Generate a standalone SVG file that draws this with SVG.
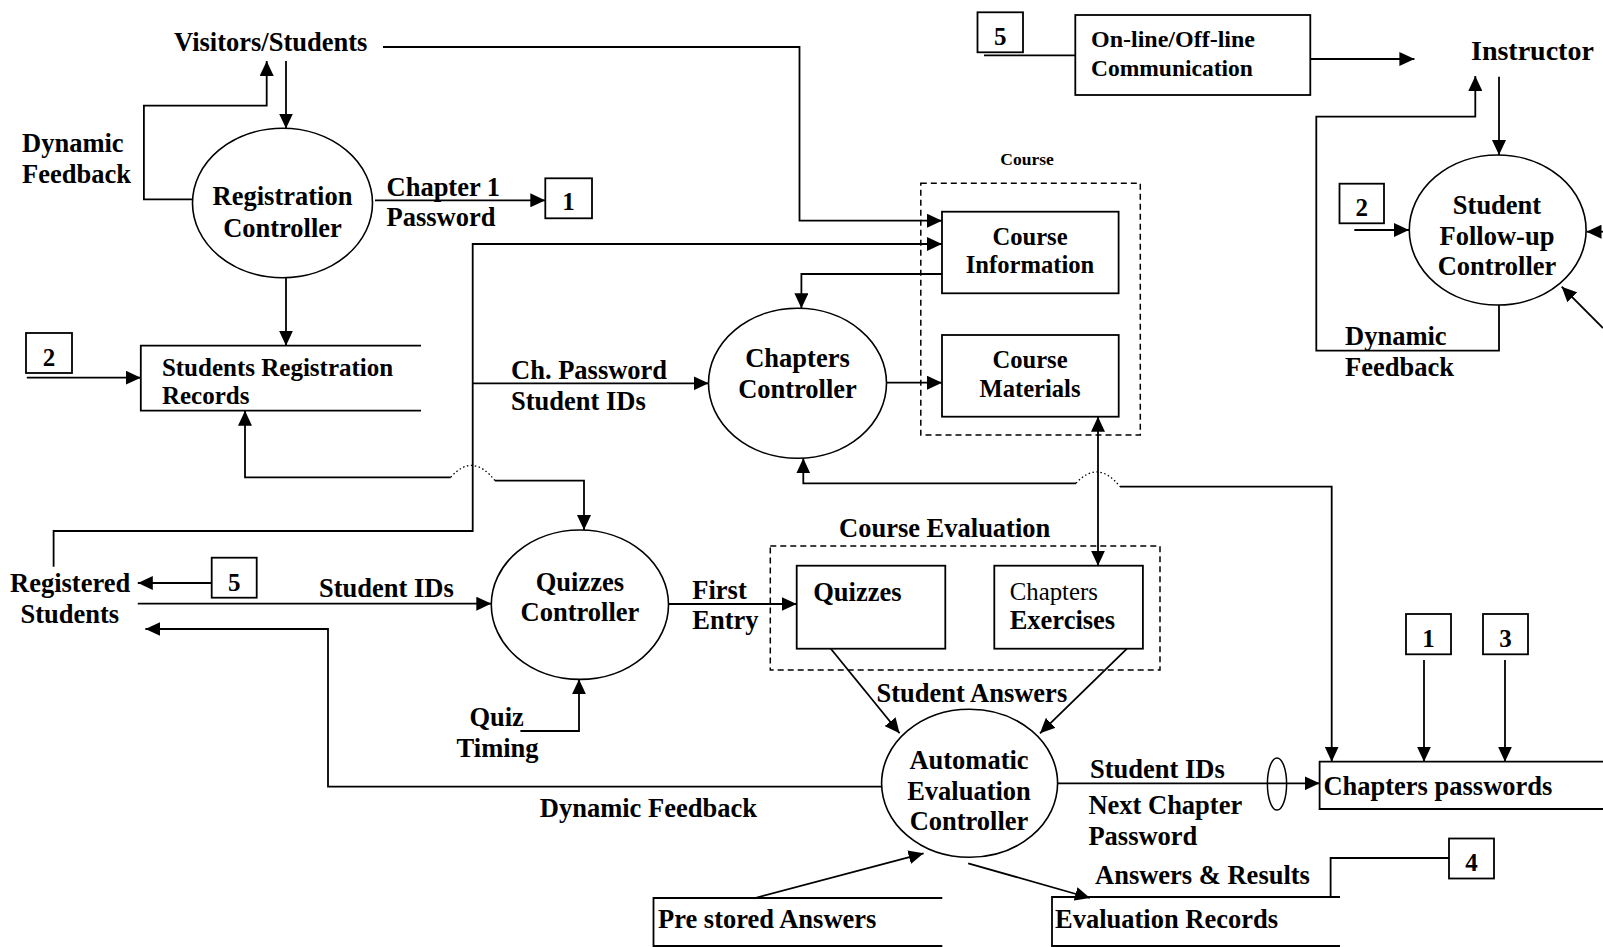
<svg xmlns="http://www.w3.org/2000/svg" width="1603" height="947" viewBox="0 0 1603 947">
  <defs>
    <marker id="ah" markerWidth="15" markerHeight="14" refX="15" refY="7" orient="auto-start-reverse" markerUnits="userSpaceOnUse">
      <path d="M0,0 L15,7 L0,14 z" fill="#000"/>
    </marker>
    <style>
      text { font-family: "Liberation Serif", "Times New Roman", serif; font-weight: bold; font-size: 26.5px; fill: #000; }
      .mid { text-anchor: middle; }
      .sm { font-size: 25px; }
      .xs { font-size: 17.5px; }
      .reg { font-weight: normal; font-size: 24.8px; }
      .num { font-size: 25px; text-anchor: middle; }
      .proc { fill: #fff; stroke: #000; stroke-width: 1.6; }
      .box { fill: #fff; stroke: #000; stroke-width: 1.8; }
      .store { fill: none; stroke: #000; stroke-width: 1.8; }
      .grp { fill: none; stroke: #000; stroke-width: 1.5; stroke-dasharray: 6 4; }
      .flow { fill: none; stroke: #000; stroke-width: 1.8; }
      .arr { marker-end: url(#ah); }
      .hop { fill: none; stroke: #000; stroke-width: 1.3; stroke-dasharray: 1.5 2.5; }
    </style>
  </defs>
  <rect width="1603" height="947" fill="#fff"/>

  <!-- group outlines -->
  <g id="course-group">
    <rect class="grp" x="920.8" y="183.3" width="219.5" height="251.7"/>
    <text class="xs mid" x="1027" y="165">Course</text>
  </g>
  <g id="course-evaluation-group">
    <rect class="grp" x="770.3" y="546" width="389.7" height="124"/>
    <text x="839" y="537">Course Evaluation</text>
  </g>

  <!-- connectors -->
  <g id="connectors">
    <path class="flow arr" d="M383,47 H799.5 V220.7 H942"/>
    <path class="flow arr" d="M286,61 V128.5"/>
    <path class="flow arr" d="M192.5,199.3 H143.9 V105.7 H266.7 V61"/>
    <path class="flow arr" d="M375,200.3 H545.3"/>
    <path class="flow arr" d="M286,277.7 V345.7"/>
    <path class="flow arr" d="M26.8,377.7 H140.8"/>
    <path class="flow arr" d="M450.7,477.3 H245 V410.7"/>
    <path class="hop" d="M450.7,477.3 Q472.7,452 495,480.7"/>
    <path class="flow arr" d="M495,480.7 H584 V530"/>
    <path class="flow arr" d="M53.6,566.7 V531 H472.7 V244 H942"/>
    <path class="flow arr" d="M472.7,383.3 H708.6"/>
    <path class="flow arr" d="M942,274 H801.4 V308.3"/>
    <path class="flow arr" d="M886.3,382.7 H942"/>
    <path class="flow" d="M1098,416.7 V565.7" marker-start="url(#ah)" marker-end="url(#ah)"/>
    <path class="flow arr" d="M1076,483.3 H803.3 V458.3"/>
    <path class="hop" d="M1076,483.3 Q1098,459 1120,486.7"/>
    <path class="flow arr" d="M1120,486.7 H1331.7 V761.7"/>
    <path class="flow" d="M984,55.3 H1075.3"/>
    <path class="flow arr" d="M1310.4,59 H1414.4"/>
    <path class="flow arr" d="M1499,76.7 V155"/>
    <path class="flow arr" d="M1499,305 V350.7 H1316.3 V116.7 H1475.3 V76"/>
    <path class="flow arr" d="M1354.3,230 H1409"/>
    <path class="flow arr" d="M1603,231.7 H1586.5"/>
    <path class="flow arr" d="M1603,328 L1561.7,286.7"/>
    <path class="flow arr" d="M211.7,583 H137.8"/>
    <path class="flow arr" d="M137.8,603.7 H491.3"/>
    <path class="flow arr" d="M883,786.7 H328 V629 H145.4"/>
    <path class="flow arr" d="M520.4,731 H579 V679.3"/>
    <path class="flow arr" d="M668.4,604 H796.7"/>
    <path class="flow arr" d="M830.8,648.7 L899.6,733.3"/>
    <path class="flow arr" d="M1127,648.7 L1040,733.3"/>
    <path class="flow arr" d="M1057.6,783.3 H1319.6"/>
    <ellipse cx="1277" cy="784" rx="9.6" ry="26" fill="none" stroke="#000" stroke-width="1.5"/>
    <path class="flow arr" d="M1424,660 V761.7"/>
    <path class="flow arr" d="M1505,660 V761.7"/>
    <path class="flow arr" d="M754,898.3 L923.6,853.3"/>
    <path class="flow arr" d="M968.2,863.3 L1090,898"/>
    <path class="flow" d="M1330.6,897 V858 H1449"/>
  </g>

  <!-- processes -->
  <g id="registration-controller">
    <ellipse class="proc" cx="282.5" cy="203" rx="90" ry="74.7"/>
    <text class="mid" x="282.5" y="205">Registration</text>
    <text class="mid" x="282.5" y="237">Controller</text>
  </g>
  <g id="chapters-controller">
    <ellipse class="proc" cx="797.5" cy="383.3" rx="89" ry="75"/>
    <text class="mid" x="797.5" y="366.7">Chapters</text>
    <text class="mid" x="797.5" y="397.7">Controller</text>
  </g>
  <g id="student-followup-controller">
    <ellipse class="proc" cx="1497.7" cy="230" rx="88.4" ry="75"/>
    <text class="mid" x="1497" y="213.5">Student</text>
    <text class="mid" x="1497" y="244.5">Follow-up</text>
    <text class="mid" x="1497" y="274.5">Controller</text>
  </g>
  <g id="quizzes-controller">
    <ellipse class="proc" cx="579.9" cy="604.7" rx="88.6" ry="74.7"/>
    <text class="mid" x="579.9" y="590.5">Quizzes</text>
    <text class="mid" x="579.9" y="620.5">Controller</text>
  </g>
  <g id="automatic-evaluation-controller">
    <ellipse class="proc" cx="969.6" cy="783.3" rx="88" ry="74"/>
    <text class="mid" x="969" y="769">Automatic</text>
    <text class="mid" x="969" y="800">Evaluation</text>
    <text class="mid" x="969" y="830">Controller</text>
  </g>

  <!-- data stores -->
  <g id="students-registration-records">
    <path class="store" d="M421,345.7 H140.8 V410.7 H421"/>
    <text class="sm" x="161.9" y="376">Students Registration</text>
    <text class="sm" x="161.9" y="404">Records</text>
  </g>
  <g id="chapters-passwords">
    <path class="store" d="M1603,761.7 H1319.6 V809 H1603"/>
    <text x="1323.4" y="794.5">Chapters passwords</text>
  </g>
  <g id="pre-stored-answers">
    <path class="store" d="M942.3,898 H653.5 V946 H942.3"/>
    <text x="658" y="928">Pre stored Answers</text>
  </g>
  <g id="evaluation-records">
    <path class="store" d="M1340,897 H1052 V946 H1340"/>
    <text x="1055" y="928">Evaluation Records</text>
  </g>

  <!-- entities and boxes -->
  <g id="course-information">
    <rect class="box" x="942" y="211.7" width="176.6" height="81.6"/>
    <text class="mid" x="1030" y="245" style="font-size:24.6px">Course</text>
    <text class="mid" x="1030" y="273.3" style="font-size:24.6px">Information</text>
  </g>
  <g id="course-materials">
    <rect class="box" x="942" y="335" width="176.7" height="81.7"/>
    <text class="mid" x="1030" y="367.7" style="font-size:24.6px">Course</text>
    <text class="mid" x="1030" y="396.7" style="font-size:24.6px">Materials</text>
  </g>
  <g id="quizzes">
    <rect class="box" x="796.7" y="565.7" width="148.6" height="83"/>
    <text x="813.2" y="601">Quizzes</text>
  </g>
  <g id="chapters-exercises">
    <rect class="box" x="994.3" y="565.7" width="148.6" height="83"/>
    <text class="reg" x="1009.7" y="599.5">Chapters</text>
    <text x="1009.7" y="629">Exercises</text>
  </g>
  <g id="communication">
    <rect class="box" x="1075.3" y="15" width="235" height="80"/>
    <text x="1091" y="47" style="font-size:24px">On-line/Off-line</text>
    <text x="1091" y="75.5" style="font-size:23.5px">Communication</text>
  </g>
  <g id="visitors-students">
    <text x="174" y="50.5">Visitors/Students</text>
  </g>
  <g id="instructor">
    <text x="1471" y="60" style="font-size:28px">Instructor</text>
  </g>
  <g id="registered-students">
    <text x="10" y="592">Registered</text>
    <text x="20.4" y="622.5">Students</text>
  </g>
  <g id="ref-1-top">
    <rect class="box" x="545.3" y="178.3" width="46.7" height="40"/>
    <text class="num" x="568.6" y="210">1</text>
  </g>
  <g id="ref-2-left">
    <rect class="box" x="26" y="333" width="46" height="40"/>
    <text class="num" x="49" y="366">2</text>
  </g>
  <g id="ref-5-top">
    <rect class="box" x="977.5" y="12.3" width="45.5" height="40"/>
    <text class="num" x="1000.2" y="45">5</text>
  </g>
  <g id="ref-2-right">
    <rect class="box" x="1339.5" y="183.7" width="44.5" height="39.6"/>
    <text class="num" x="1361.7" y="215.5">2</text>
  </g>
  <g id="ref-5-left">
    <rect class="box" x="211.7" y="557.7" width="45" height="40"/>
    <text class="num" x="234.2" y="590.5">5</text>
  </g>
  <g id="ref-1-bottom">
    <rect class="box" x="1406" y="614" width="45" height="40.3"/>
    <text class="num" x="1428.5" y="647">1</text>
  </g>
  <g id="ref-3">
    <rect class="box" x="1483" y="614" width="45" height="40.3"/>
    <text class="num" x="1505.5" y="647">3</text>
  </g>
  <g id="ref-4">
    <rect class="box" x="1449" y="838.5" width="45" height="40"/>
    <text class="num" x="1471.5" y="871">4</text>
  </g>

  <!-- flow labels -->
  <g id="labels">
    <text x="22" y="151.5">Dynamic</text>
    <text x="22" y="182.5">Feedback</text>
    <text x="386.5" y="195.5">Chapter 1</text>
    <text x="386.5" y="225.5">Password</text>
    <text x="511" y="378.5">Ch. Password</text>
    <text x="511" y="409.5">Student IDs</text>
    <text x="1345" y="345">Dynamic</text>
    <text x="1345" y="376">Feedback</text>
    <text x="319" y="597">Student IDs</text>
    <text x="692.3" y="598.5">First</text>
    <text x="692.3" y="628.5">Entry</text>
    <text x="469.4" y="725.5">Quiz</text>
    <text x="456.6" y="757">Timing</text>
    <text x="539.8" y="816.5">Dynamic Feedback</text>
    <text x="876.5" y="702">Student Answers</text>
    <text x="1090" y="778">Student IDs</text>
    <text x="1088.4" y="814">Next Chapter</text>
    <text x="1088.4" y="845">Password</text>
    <text x="1095" y="884">Answers &amp; Results</text>
  </g>
</svg>
